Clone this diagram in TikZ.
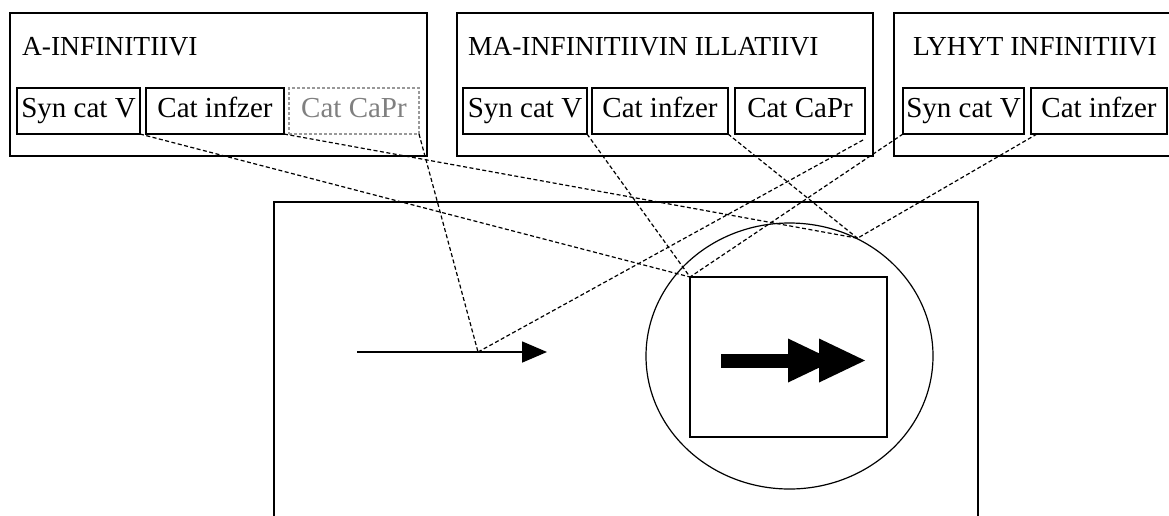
\documentclass[tikz,border=0pt]{standalone}
\usepackage{fontspec}
\setmainfont{Liberation Serif}
\usetikzlibrary{arrows.meta,shapes.geometric}
\tikzset{
  frame/.style={draw=black, line width=1.4pt, fill=none},
  cell/.style={draw=black, line width=1.4pt, minimum height=46pt, inner sep=0pt, outer sep=0pt,
    text height=19pt, text depth=6pt, font=\fontsize{29}{31}\selectfont},
  ghost/.style={cell, draw=gray!80, dash pattern=on 3pt off 2pt, line width=1.1pt, text=gray},
  title/.style={inner sep=0pt, outer sep=0pt, anchor=base west, font=\fontsize{27.5}{30}\selectfont},
  link/.style={draw=black, line width=1.2pt, dash pattern=on 4pt off 2.5pt},
}
\begin{document}
\begin{tikzpicture}[x=1pt,y=-1pt]
\useasboundingbox (0,0) rectangle (1169,515);
\begin{scope}
\clip (0,0) rectangle (1169,515);
\fill[white] (0,0) rectangle (1169,515);
% outer group boxes
\draw[frame] (10,13) rectangle (427,156);
\draw[frame] (457,13) rectangle (873,156);
\draw[frame] (894,13) rectangle (1185,156);
\node[title] (t1) at (22,55) {A-INFINITIIVI};
\node[title] (t2) at (468,55) {MA-INFINITIIVIN ILLATIIVI};
\node[title] (t3) at (913,55) {LYHYT INFINITIIVI};
% cells
\node[cell, minimum width=123pt] (s1) at (78.5,111) {Syn cat V};
\node[cell, minimum width=138pt] (i1) at (215,111) {Cat infzer};
\node[ghost, minimum width=130pt] (c1) at (354,111) {Cat CaPr};
\node[cell, minimum width=124pt] (s2) at (525,111) {Syn cat V};
\node[cell, minimum width=136pt] (i2) at (660,111) {Cat infzer};
\node[cell, minimum width=130pt] (c2) at (800,111) {Cat CaPr};
\node[cell, minimum width=121pt] (s3) at (963.5,111) {Syn cat V};
\node[cell, minimum width=136pt] (i3) at (1099,111) {Cat infzer};
% big frame
\draw[frame] (274,202) rectangle (978,540);
% thin arrow
\coordinate (a0) at (357,352);
\coordinate (a1) at (547,352);
\coordinate (hit) at (478,352);
\draw[line width=1.6pt, -{Triangle[length=25pt,width=21pt]}] (a0) -- (a1);
% circle and inner rectangle
\node[ellipse, draw=black, line width=1.2pt, minimum width=287pt, minimum height=266pt, inner sep=0pt] (circ) at (789.5,356) {};
\node[draw=black, line width=1.4pt, minimum width=197pt, minimum height=160pt, inner sep=0pt, outer sep=0pt] (ir) at (788.5,357) {};
% fat double arrow
\fill[black] (721,353.5) rectangle (792,368);
\fill[black] (788,338.5) -- (834,360.5) -- (788,382.5) -- cycle;
\fill[black] (819,338.5) -- (865,360.5) -- (819,382.5) -- cycle;
% dashed links
\draw[link] (s1.south east) -- (ir.north west);
\draw[link] (s2.south east) -- (ir.north west);
\draw[link] (s3.south west) -- (ir.north west);
\draw[link] (i1.south east) -- (circ.60);
\draw[link] (i2.south east) -- (circ.60);
\draw[link] ([xshift=6pt]i3.south west) -- (circ.60);
\draw[link] (c1.south east) -- (hit);
\draw[link] ([shift={(-2pt,-6pt)}]c2.south east) -- (hit);
\end{scope}
\end{tikzpicture}
\end{document}
